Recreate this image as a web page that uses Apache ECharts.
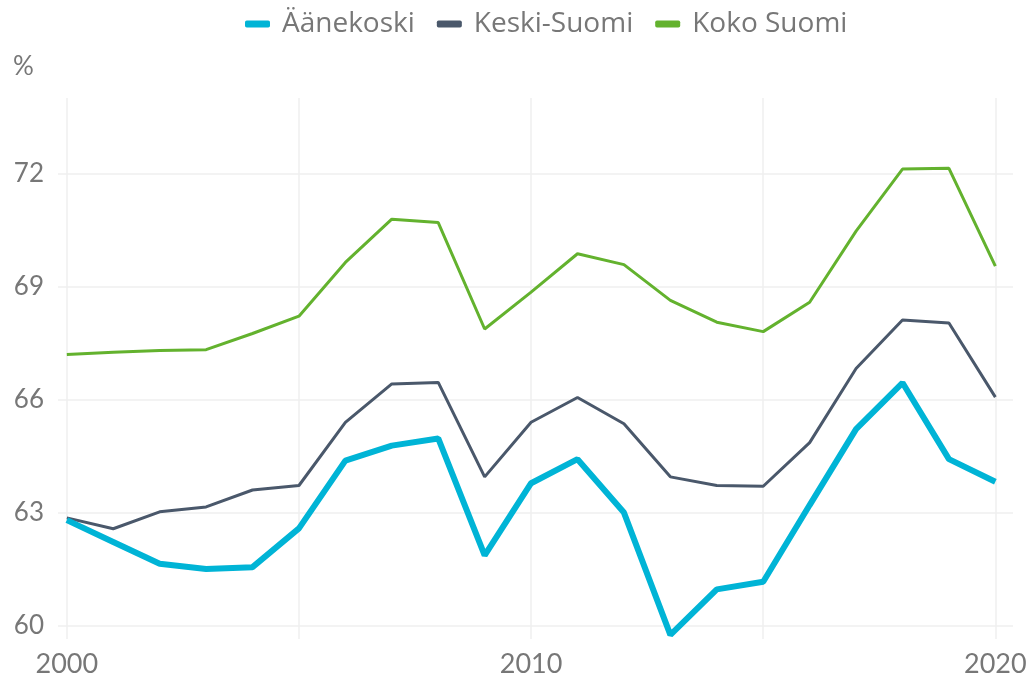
<!DOCTYPE html>
<html>
<head>
<meta charset="utf-8">
<script src="https://cdn.jsdelivr.net/npm/echarts@6/dist/echarts.min.js"></script>
<style>html,body{margin:0;padding:0;background:#fff}#c{width:1030px;height:678px}</style>
</head>
<body>
<div id="c"></div>
<script>
const years = [2000,2001,2002,2003,2004,2005,2006,2007,2008,2009,2010,2011,2012,2013,2014,2015,2016,2017,2018,2019,2020];
const aanekoski = [62.8,62.22,61.64,61.5,61.55,62.58,64.38,64.78,64.97,61.86,63.78,64.42,63.0,59.75,60.96,61.16,63.2,65.22,66.45,64.42,63.82];
const keskiSuomi = [62.86,62.57,63.02,63.15,63.6,63.72,65.4,66.42,66.46,63.95,65.4,66.06,65.36,63.95,63.72,63.7,64.86,66.83,68.12,68.04,66.07];
const kokoSuomi = [67.2,67.26,67.31,67.33,67.76,68.22,69.65,70.8,70.71,67.88,68.86,69.88,69.59,68.64,68.06,67.81,68.59,70.48,72.13,72.15,69.55];
const xTicks = [2000,2005,2010,2015,2020];
const xLabels = [2000,2010,2020];
const yTicks = [60,63,66,69,72];
const names = ['Äänekoski','Keski-Suomi','Koko Suomi'];
const colors = ['#00b4d6','#4a586b','#63b22e'];

const pair = arr => years.map((y,i)=>[y,arr[i]]);
const font = 'Lato, "Noto Sans", sans-serif';
const chart = echarts.init(document.getElementById('c'), null, {renderer:'canvas'});
chart.setOption({
  animation:false,
  color: colors,
  legend:{
    top: 5, left: 240,
    itemWidth: 25, itemHeight: 7, itemGap: 22,
    icon: 'roundRect',
    textStyle:{color:'#777', fontSize:28, fontFamily:'"Open Sans", sans-serif', padding:[0,0,0,7]},
    data: names
  },
  grid:{left:58, right:17, top:98, bottom:38, containLabel:false},
  xAxis:{
    type:'value', min:1999.81, max:2020.38,
    axisLine:{show:false},
    axisTick:{show:false, customValues: xTicks},
    axisLabel:{customValues: xLabels, color:'#777', fontSize:27, fontFamily:font, margin:12, formatter: v=>String(v)},
    splitLine:{show:true, lineStyle:{color:'#efefef', width:1.5}}
  },
  yAxis:{
    type:'value', min:59.64, max:74.02,
    name:'%', nameLocation:'end', nameGap:18,
    nameTextStyle:{color:'#777', fontSize:26, fontFamily:font, align:'left', padding:[0,0,0,-45]},
    axisLine:{show:false},
    axisTick:{show:false, customValues: yTicks},
    axisLabel:{customValues: yTicks, color:'#777', fontSize:26, fontFamily:font, margin:14},
    splitLine:{show:true, lineStyle:{color:'#efefef', width:1.5}}
  },
  series:[
    {name:names[0], type:'line', data:pair(aanekoski), showSymbol:false, symbol:'none', lineStyle:{width:6}, z:3},
    {name:names[1], type:'line', data:pair(keskiSuomi), showSymbol:false, symbol:'none', lineStyle:{width:3}, z:2},
    {name:names[2], type:'line', data:pair(kokoSuomi), showSymbol:false, symbol:'none', lineStyle:{width:3}, z:2}
  ]
});
</script>
</body>
</html>
